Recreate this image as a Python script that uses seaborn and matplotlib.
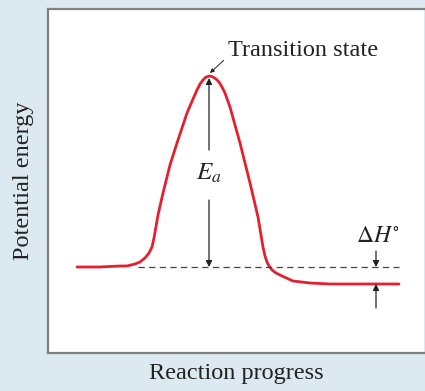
import numpy as np
import pandas as pd
import seaborn as sns
import matplotlib.pyplot as plt

# Energy profile (arbitrary units: progress 0-376, energy 0-344)
progress = [29, 52, 72, 79, 87, 92, 97, 101, 104, 106, 110, 115, 122, 129, 139,
            145, 149, 152, 155, 158, 162, 165, 168, 171, 174, 177, 182, 192,
            202, 210, 215, 217, 219, 221, 224, 228, 234, 245, 262, 282, 351]
energy = [86, 86, 87, 87, 89, 91, 95, 100, 106, 115, 138, 160, 188, 210, 240,
          254, 263, 269, 273, 276, 277, 276, 274, 271, 266, 260, 246, 210,
          170, 136, 106, 97, 91, 87, 83, 80, 77, 72, 70, 69, 69]

reactant_level = 86
product_level = 69
peak_x = 161
peak_y = 277
dashed_x = [90, 351]
dh_x = 328

bg = '#dde9f0'
red = '#e5202e'
ink = '#222222'

sns.set_theme(style='white')
plt.rcParams['font.family'] = ['Liberation Serif', 'DejaVu Serif']
plt.rcParams['mathtext.fontset'] = 'stix'

fig = plt.figure(figsize=(4.25, 3.91), dpi=100, facecolor=bg)
ax = fig.add_axes([48 / 425, 1 - 353 / 391, 376 / 425, 344 / 391])
ax.set_facecolor('white')

df = pd.DataFrame({'progress': progress, 'energy': energy})
sns.lineplot(data=df, x='progress', y='energy', sort=False, color=red, lw=2.0, ax=ax)
ax.lines[-1].set_solid_joinstyle('round')

# reactant reference line
ax.plot(dashed_x, [reactant_level, reactant_level], ls=(0, (5, 3.5)), color='#444444', lw=0.9)

# activation energy arrow
arrow = dict(arrowstyle='-|>', color=ink, lw=0.9, mutation_scale=9, shrinkA=0, shrinkB=0)
ax.annotate('', xy=(peak_x, peak_y - 2), xytext=(peak_x, 203), arrowprops=arrow)
ax.annotate('', xy=(peak_x, reactant_level), xytext=(peak_x, 153), arrowprops=arrow)
ax.text(peak_x, 180, '$E_a$', ha='center', va='center', fontsize=18, color=ink)

# transition state label
ax.annotate('Transition state', xy=(peak_x + 1, peak_y + 3), xytext=(180, 303),
            fontsize=17.5, color=ink, ha='left', va='center',
            arrowprops=dict(arrowstyle='-|>', color=ink, lw=0.7, mutation_scale=6,
                            shrinkA=1, shrinkB=0, relpos=(0, 0.2)))

# enthalpy change arrows
ax.annotate('', xy=(dh_x, reactant_level), xytext=(dh_x, 102), arrowprops=arrow)
ax.annotate('', xy=(dh_x, product_level), xytext=(dh_x, 45), arrowprops=arrow)
ax.text(dh_x + 2, 106, r'$\Delta H^{\circ}$', ha='center', va='bottom', fontsize=17, color=ink)

ax.set_xlim(0, 376)
ax.set_ylim(0, 344)
ax.set_xticks([])
ax.set_yticks([])
ax.set_xlabel('Reaction progress', fontsize=17.5, color=ink, labelpad=7)
ax.set_ylabel('Potential energy', fontsize=17.5, color=ink, labelpad=10)
for side in ['left', 'top', 'bottom']:
    ax.spines[side].set_color('#808080')
    ax.spines[side].set_linewidth(1.6)
ax.spines['right'].set_visible(False)

fig.savefig('out.png', dpi=100, facecolor=bg)
